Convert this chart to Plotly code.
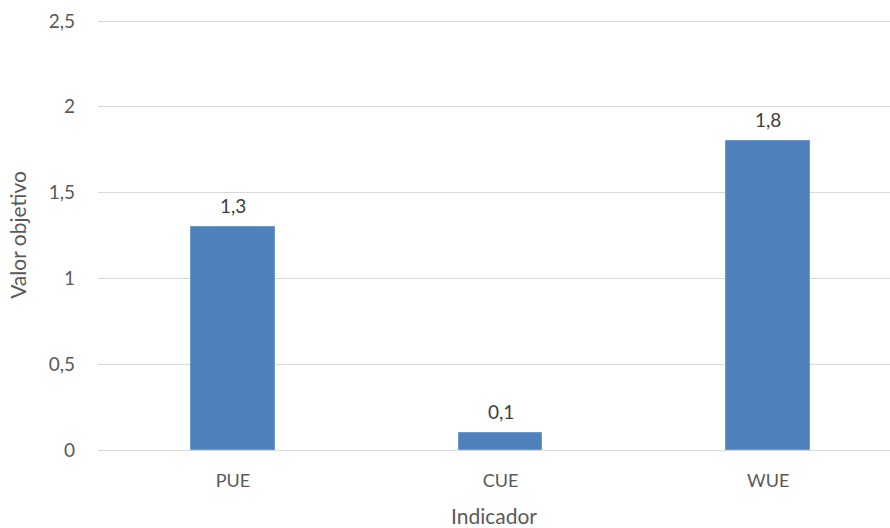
import plotly.graph_objects as go

categories = ["PUE", "CUE", "WUE"]
values = [1.3, 0.1, 1.8]
value_labels = ["1,3", "0,1", "1,8"]

FONT = "Lato, Open Sans, sans-serif"
fig = go.Figure()
fig.add_trace(go.Bar(
    x=categories, y=values, width=0.313,
    marker=dict(color="#4F81BD", line=dict(color="#6A97CC", width=1)),
    hoverinfo="skip",
))
for c, v, t in zip(categories, values, value_labels):
    fig.add_annotation(x=c, y=v, text=t, showarrow=False, yanchor="bottom",
                       yshift=8, font=dict(family=FONT, size=19, color="#404040"))

fig.update_layout(
    width=890, height=528,
    margin=dict(l=98, r=0, t=20, b=78),
    paper_bgcolor="white", plot_bgcolor="white",
    separators=",.",
    showlegend=False,
    font=dict(family=FONT, size=18, color="#595959"),
    bargap=0,
)
fig.update_xaxes(
    range=[-0.504, 2.455], showgrid=False, zeroline=False,
    showline=False, ticks="", ticklabelstandoff=18,
    tickfont=dict(size=18, color="#595959"),
    title=dict(text="Indicador", font=dict(size=21, color="#595959"), standoff=20),
)
fig.update_yaxes(
    range=[0, 2.506], dtick=0.5, tick0=0, showgrid=True, gridcolor="#D9D9D9",
    gridwidth=1.3, zeroline=True, zerolinecolor="#D9D9D9", zerolinewidth=1.3,
    showline=False, ticks="", ticklabelstandoff=22,
    tickfont=dict(size=19, color="#595959"),
    title=dict(text="Valor objetivo", font=dict(size=21, color="#595959"), standoff=16),
)
fig.write_html("out.html")
